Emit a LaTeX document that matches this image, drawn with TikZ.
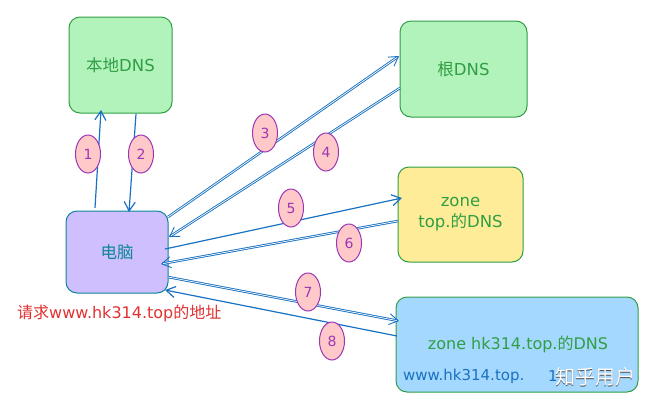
\documentclass[tikz,border=0pt]{standalone}
\usepackage{fontspec}
\setmainfont{DejaVu Sans}
\newfontfamily\cjk{Noto Sans CJK SC}
\usetikzlibrary{arrows.meta,shapes.geometric}
\definecolor{dnsgreen}{HTML}{2F9E44}
\definecolor{linkblue}{HTML}{1971C2}
\definecolor{hostred}{HTML}{E03131}
\definecolor{numpurple}{HTML}{9C36B5}
\definecolor{numpink}{HTML}{FFC9C9}
\definecolor{boxgreen}{HTML}{B2F2BB}
\definecolor{boxyellow}{HTML}{FFEC99}
\definecolor{boxblue}{HTML}{A5D8FF}
\definecolor{boxviolet}{HTML}{D0BFFF}
\definecolor{pcteal}{HTML}{0C8599}
\tikzset{
  server/.style={draw=dnsgreen, line width=1pt, rounded corners=11pt, align=center, text=dnsgreen, font=\fontsize{16.5}{21}\selectfont},
  numtag/.style={ellipse, draw=numpurple, line width=1pt, fill=numpink, text=numpurple, inner sep=0pt, minimum width=25pt, minimum height=38pt, font=\fontsize{14}{16}\selectfont},
  link/.style={-{Straight Barb[length=9pt,width=11pt]}, draw=linkblue, line width=1.2pt},
  dlink/.style={link, double=white, double distance=0.7pt, line width=0.9pt}
}
\begin{document}
\begin{tikzpicture}[x=1pt,y=-1pt]
   \useasboundingbox (0,0) rectangle (653,400);

   % boxes
   \node(localdns)[server, fill=boxgreen, minimum width=103pt, minimum height=96pt] at (120.5,65) {{\cjk 本地}DNS};
   \node(rootdns)[server, fill=boxgreen, minimum width=127pt, minimum height=96pt] at (463.5,69) {{\cjk 根}DNS};
   \node(topdns)[server, fill=boxyellow, minimum width=125pt, minimum height=95pt] at (460.5,214.5) {zone\\top.{\cjk 的}DNS};
   \node(hkdns)[server, fill=boxblue, minimum width=242pt, minimum height=95pt] at (517,344.5) {};
   \node(pc)[server, draw=pcteal, text=pcteal, fill=boxviolet, minimum width=102pt, minimum height=82pt] at (117,252) {\cjk 电脑};

   % texts
   \node(hkname)[text=dnsgreen, font=\fontsize{16}{18}\selectfont] at (518,344) {zone hk314.top.{\cjk 的}DNS};
   \node(wwwname)[text=linkblue, anchor=west, inner sep=0pt, font=\fontsize{15}{18}\selectfont] at (403,376) {www.hk314.top.};
   \node(wwwone)[text=linkblue, font=\fontsize{15}{18}\selectfont] at (553,376) {1};
   \node(request)[text=hostred, anchor=west, inner sep=0pt, font=\fontsize{16}{18}\selectfont] at (17,313) {{\cjk 请求}www.hk314.top{\cjk 的地址}};

   % free ends of the arrows
   \coordinate(p1a) at (95,208);   \coordinate(p1b) at (101,110);
   \coordinate(p2a) at (136,114);  \coordinate(p2b) at (129,212);
   \coordinate(p3a) at (168,217);  \coordinate(p3b) at (399,56);
   \coordinate(p4a) at (400,88);   \coordinate(p4b) at (169,237);
   \coordinate(p5a) at (165,249);  \coordinate(p5b) at (402,198);
   \coordinate(p6a) at (398,221);  \coordinate(p6b) at (161,264);
   \coordinate(p7a) at (168,277);  \coordinate(p7b) at (399,321);
   \coordinate(p8a) at (397,336);  \coordinate(p8b) at (165,290);

   \draw[link] (p1a) -- (p1b);
   \draw[link] (p2a) -- (p2b);
   \draw[dlink] (p3a) -- (p3b);
   \draw[dlink] (p4a) -- (p4b);
   \draw[link] (p5a) -- (p5b);
   \draw[dlink] (p6a) -- (p6b);
   \draw[dlink] (p7a) -- (p7b);
   \draw[link] (p8a) -- (p8b);

   % numbers
   \node(n1)[numtag] at (88,154) {1};
   \node(n2)[numtag] at (141,154) {2};
   \node(n3)[numtag] at (265,133) {3};
   \node(n4)[numtag] at (326,152) {4};
   \node(n5)[numtag] at (291,208) {5};
   \node(n6)[numtag] at (349,243) {6};
   \node(n7)[numtag] at (308,292) {7};
   \node(n8)[numtag] at (332,341) {8};

   % watermark
   \node(markshadow)[text=black!70, font=\cjk\fontsize{20}{22}\selectfont] at (595.7,377.7) {知乎用户};
   \node(mark)[text=white, font=\cjk\fontsize{20}{22}\selectfont] at (595,377) {知乎用户};
\end{tikzpicture}
\end{document}
